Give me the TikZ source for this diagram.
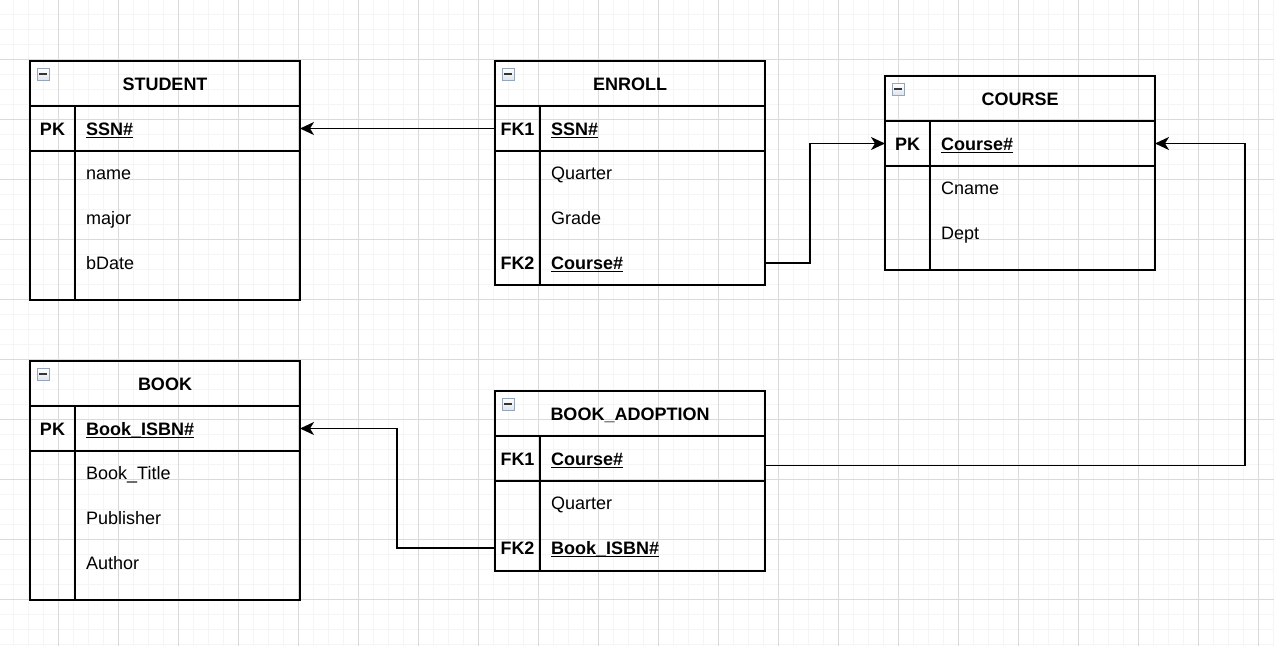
\documentclass[tikz,border=0pt]{standalone}
\usepackage{fontspec}
\setmainfont{Liberation Sans}
\usetikzlibrary{arrows.meta}
\definecolor{gmaj}{RGB}{218,218,218}
\definecolor{gmin}{RGB}{245,245,245}
\definecolor{icbd}{RGB}{150,165,185}
\definecolor{icfl}{RGB}{222,228,236}
\newcommand\ersize{\fontsize{18}{21}\selectfont}
\newcommand\erul[1]{\setbox0\hbox{#1}\rlap{\vrule height -1.6pt depth 2.9pt width \wd0}\box0}
\tikzset{
 gmn/.style={draw=gmin, line width=1pt},
 gmj/.style={draw=gmaj, line width=1pt},
 tbl/.style={draw, line width=1.5pt, minimum width=270pt, anchor=north west, inner sep=0pt, outer sep=0pt},
 tline/.style={line width=1.5pt},
 ttl/.style={anchor=base, font=\ersize\bfseries, inner sep=0pt},
 keyt/.style={anchor=base, font=\ersize\bfseries, inner sep=0pt},
 fld/.style={anchor=base west, font=\ersize, inner sep=0pt},
 kfld/.style={anchor=base west, font=\ersize\bfseries, inner sep=0pt},
 rowbox/.style={minimum width=270pt, minimum height=45pt, inner sep=0pt, outer sep=0pt},
 icon/.style={draw=icbd, top color=white, bottom color=icfl, line width=1.2pt, minimum size=12pt, inner sep=0pt},
 conn/.style={line width=1.5pt, -{Stealth[length=14pt, width=13pt, inset=4pt]}},
}
\newcommand\ertab[5]{%
 \node[tbl, minimum height=#4pt] (#1) at (#2,#3) {};
 \node[ttl] (#1-t) at ([yshift=-29pt]#1.north) {#5};
 \node[icon] (#1-i) at ([xshift=13.3pt,yshift=-13.3pt]#1.north west) {};
 \draw[line width=2pt, black!80] ([xshift=-4pt]#1-i.center) -- ([xshift=4pt]#1-i.center);
 \draw[tline] ([yshift=-45pt]#1.north west) -- ([yshift=-45pt]#1.north east);
 \draw[tline] ([yshift=-90pt]#1.north west) -- ([yshift=-90pt]#1.north east);
 \draw[tline] ([xshift=45pt,yshift=-45pt]#1.north west) -- ([xshift=45pt]#1.south west);
}
\begin{document}
\begin{tikzpicture}[x=1pt, y=-1pt]
\useasboundingbox (0,0) rectangle (1274,646);
\fill[white] (0,0) rectangle (1274,646);
\foreach \i in {0,...,84} \draw[gmn] ({13.3+15*\i},0) -- ({13.3+15*\i},646);
\foreach \i in {0,...,42} \draw[gmn] (0,{14.3+15*\i}) -- (1274,{14.3+15*\i});
\foreach \i in {0,...,20} \draw[gmj] ({58.3+60*\i},0) -- ({58.3+60*\i},646);
\foreach \i in {0,...,9} \draw[gmj] (0,{59.3+60*\i}) -- (1274,{59.3+60*\i});

% STUDENT
\ertab{stu}{30}{61}{239}{STUDENT}
\node[rowbox] (stu-pk) at (165,128.5) {};
\node[keyt] (stu-k) at (52.5,135) {PK};
\node[kfld] (stu-ssn) at (86,135) {\erul{SSN\#}};
\node[fld] (stu-name) at (86,179.5) {name};
\node[fld] (stu-major) at (86,224.5) {major};
\node[fld] (stu-bdate) at (86,269.5) {bDate};

% ENROLL
\ertab{enr}{495}{61}{224}{ENROLL}
\node[rowbox] (enr-fk1) at (630,128.5) {};
\node[keyt] (enr-k1) at (517.5,135) {FK1};
\node[kfld] (enr-ssn) at (551,135) {\erul{SSN\#}};
\node[fld] (enr-q) at (551,179.5) {Quarter};
\node[fld] (enr-g) at (551,224.5) {Grade};
\node[rowbox] (enr-fk2) at (630,263) {};
\node[keyt] (enr-k2) at (517.5,269.5) {FK2};
\node[kfld] (enr-crs) at (551,269.5) {\erul{Course\#}};

% COURSE
\ertab{crs}{885}{76}{194}{COURSE}
\node[rowbox] (crs-pk) at (1020,143.5) {};
\node[keyt] (crs-k) at (907.5,150) {PK};
\node[kfld] (crs-no) at (941,150) {\erul{Course\#}};
\node[fld] (crs-name) at (941,194.5) {Cname};
\node[fld] (crs-dept) at (941,239.5) {Dept};

% BOOK
\ertab{bk}{30}{361}{239}{BOOK}
\node[rowbox] (bk-pk) at (165,428.5) {};
\node[keyt] (bk-k) at (52.5,435) {PK};
\node[kfld] (bk-isbn) at (86,435) {\erul{Book\_ISBN\#}};
\node[fld] (bk-title) at (86,479.5) {Book\_Title};
\node[fld] (bk-pub) at (86,524.5) {Publisher};
\node[fld] (bk-auth) at (86,569.5) {Author};

% BOOK_ADOPTION
\ertab{ba}{495}{391}{180}{BOOK\_ADOPTION}
\node[rowbox] (ba-fk1) at (630,458.5) {};
\node[keyt] (ba-k1) at (517.5,465) {FK1};
\node[kfld] (ba-crs) at (551,465) {\erul{Course\#}};
\node[fld] (ba-q) at (551,509.5) {Quarter};
\node[rowbox] (ba-fk2) at (630,548) {};
\node[keyt] (ba-k2) at (517.5,554.5) {FK2};
\node[kfld] (ba-isbn) at (551,554.5) {\erul{Book\_ISBN\#}};

% connectors
\draw[conn] (enr-fk1.west) -- (stu-pk.east);
\draw[conn] (enr-fk2.east) -- ++(45,0) |- (crs-pk.west);
\draw[conn] ([yshift=-7pt]ba-fk1.east) -- ++(480,0) |- (crs-pk.east);
\draw[conn] (ba-fk2.west) -- ++(-98,0) |- (bk-pk.east);
\end{tikzpicture}
\end{document}
